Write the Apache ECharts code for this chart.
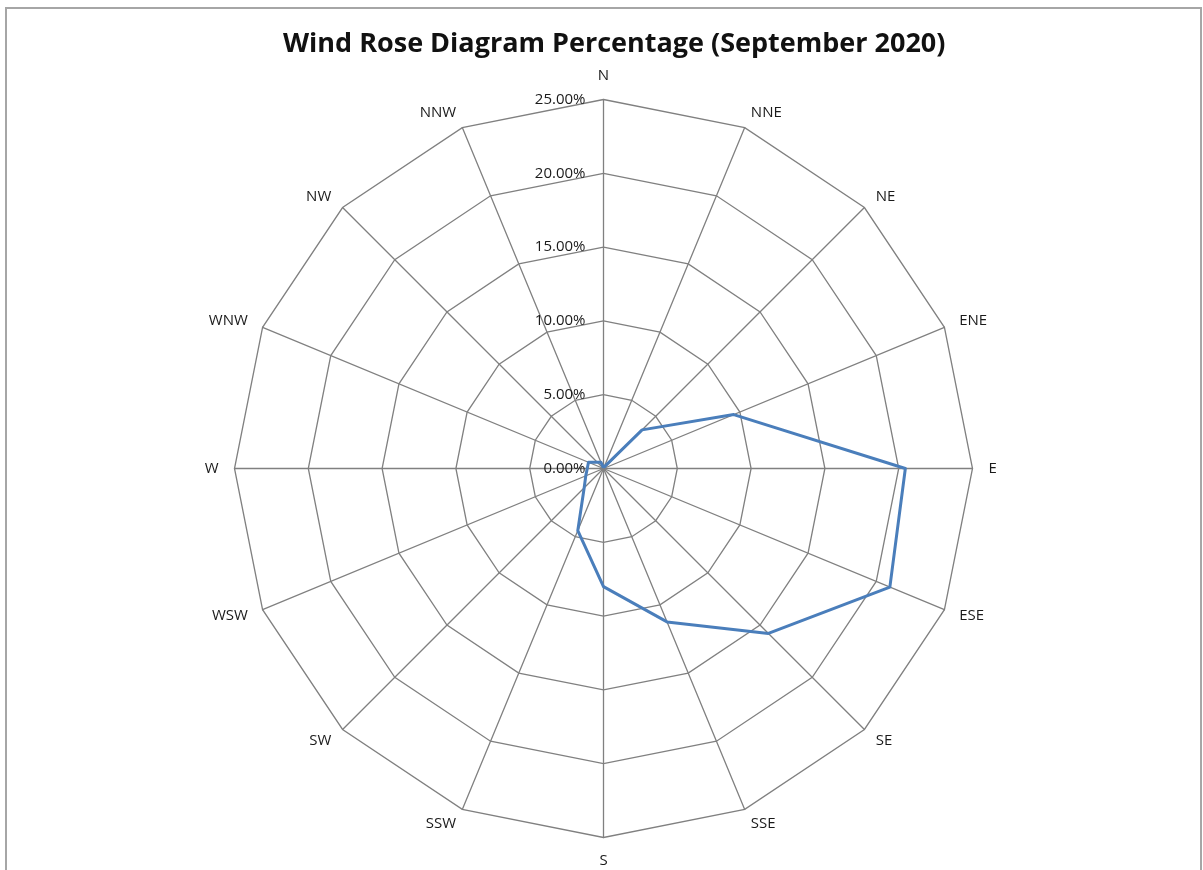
<!DOCTYPE html>
<html>
<head>
<meta charset="utf-8">
<title>Wind Rose Diagram Percentage (September 2020)</title>
<script src="https://cdn.jsdelivr.net/npm/echarts@6/dist/echarts.min.js"></script>
<style>
  html, body { margin: 0; padding: 0; background: #fff; }
  #chart { width: 1203px; height: 870px; }
</style>
</head>
<body>
<div id="chart"></div>
<script>
// 16 directions, clockwise from N
var directions = ['N', 'NNE', 'NE', 'ENE', 'E', 'ESE', 'SE', 'SSE',
  'S', 'SSW', 'SW', 'WSW', 'W', 'WNW', 'NW', 'NNW']
// percentage per direction
var windPercent = [0.05, 0.1, 3.7, 9.55, 20.45, 21.0, 15.8, 11.25,
  8.0, 4.55, 1.85, 1.3, 1.1, 1.1, 0.6, 0.45]
var axisMax = 25

// radar runs counter-clockwise, so keep N first and reverse the rest
var order = [0]
for (var i = directions.length - 1; i > 0; i--) order.push(i)

var indicators = order.map(function (idx, k) {
  var item = { name: directions[idx], min: 0, max: axisMax }
  if (k === 0) {
    // only the N axis shows the value labels
    item.axisLabel = {
      show: true,
      color: '#1a1a1a',
      fontFamily: 'Open Sans',
      fontSize: 15,
      margin: 18,
      verticalAlign: 'middle',
      padding: [4, 0, 0, 0],
      formatter: function (v) { return v.toFixed(2) + '%' }
    }
  }
  return item
})
var values = order.map(function (idx) { return windPercent[idx] })

var chart = echarts.init(document.getElementById('chart'))
chart.setOption({
  animation: false,
  title: {
    text: 'Wind Rose Diagram Percentage (September 2020)',
    left: 278,
    top: 26,
    textStyle: {
      fontFamily: 'Open Sans',
      fontWeight: 'bold',
      fontSize: 27,
      color: '#111'
    }
  },
  graphic: [{
    type: 'rect',
    shape: { x: 6, y: 8, width: 1195, height: 900 },
    style: { fill: null, stroke: '#a6a6a6', lineWidth: 2 },
    silent: true
  }],
  radar: {
    center: [603.5, 468.5],
    radius: 369,
    startAngle: 90,
    shape: 'polygon',
    splitNumber: 5,
    nameGap: 16,
    axisName: {
      color: '#1a1a1a',
      fontFamily: 'Open Sans',
      fontSize: 15
    },
    axisLine: { lineStyle: { color: '#808080', width: 1.3 } },
    splitLine: { lineStyle: { color: '#808080', width: 1.3 } },
    splitArea: { show: false },
    axisTick: { show: false },
    axisLabel: { show: false },
    indicator: indicators
  },
  series: [{
    type: 'radar',
    symbol: 'none',
    lineStyle: { color: '#4a7ebb', width: 3 },
    data: [{ value: values, name: 'Percentage' }]
  }]
})
</script>
</body>
</html>
